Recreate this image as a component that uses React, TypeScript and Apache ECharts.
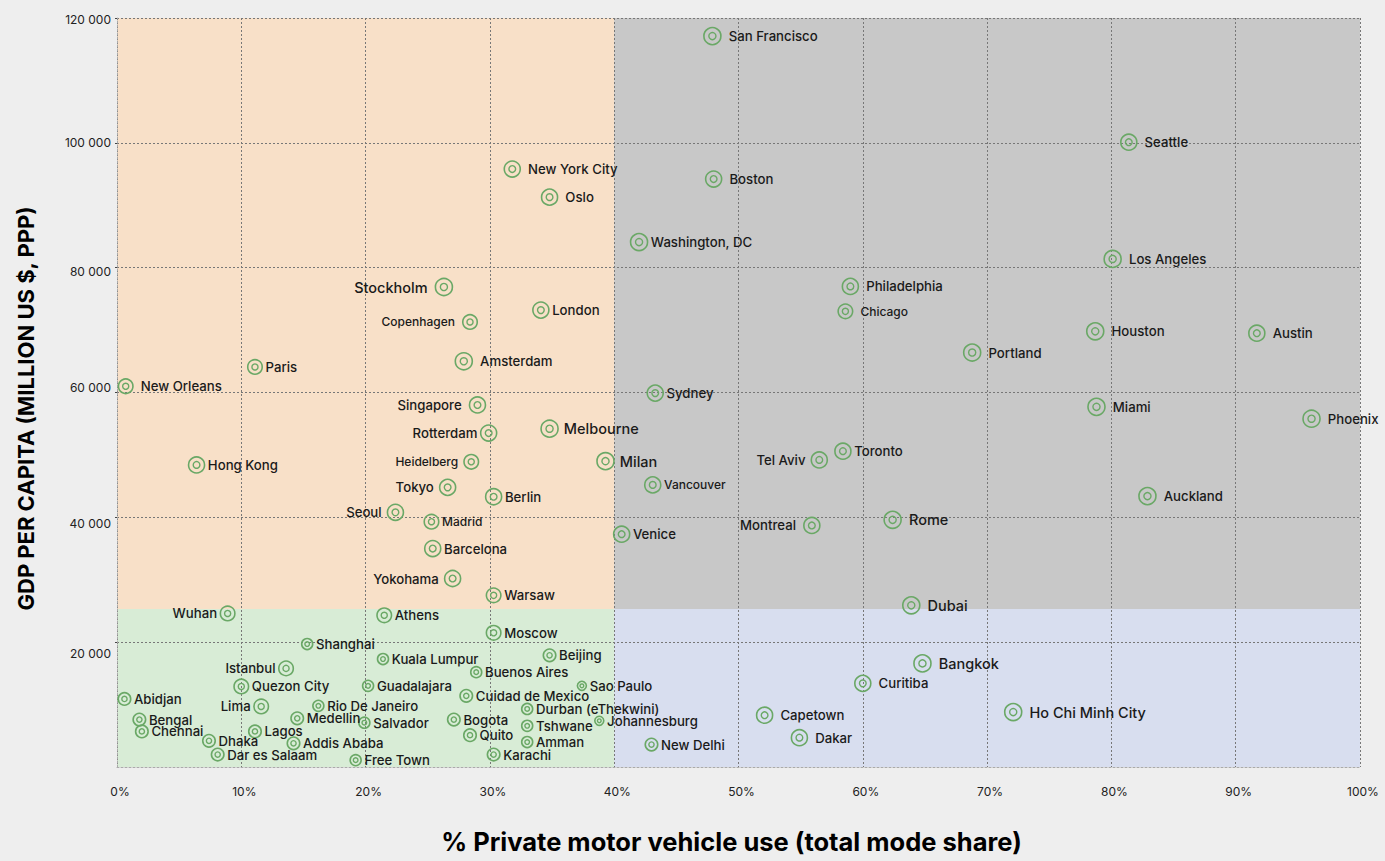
import React, { useEffect, useRef } from "react";
import * as echarts from "echarts";

// ---------- DATA ----------
const cities = [
  "San Francisco", "New York City", "Oslo", "Boston", "Washington, DC", "Seattle", "Los Angeles",
  "Stockholm", "Copenhagen", "London", "Philadelphia", "Chicago", "Houston", "Austin", "Portland",
  "Amsterdam", "Paris", "New Orleans", "Sydney", "Singapore", "Miami", "Phoenix", "Rotterdam",
  "Melbourne", "Toronto", "Tel Aviv", "Heidelberg", "Milan", "Hong Kong", "Tokyo", "Vancouver",
  "Berlin", "Auckland", "Seoul", "Madrid", "Rome", "Montreal", "Venice", "Barcelona", "Yokohama",
  "Warsaw", "Dubai", "Wuhan", "Athens", "Moscow", "Shanghai", "Kuala Lumpur", "Beijing", "Bangkok",
  "Istanbul", "Buenos Aires", "Quezon City", "Guadalajara", "Sao Paulo", "Curitiba", "Abidjan",
  "Cuidad de Mexico", "Lima", "Rio De Janeiro", "Durban (eThekwini)", "Capetown", "Ho Chi Minh City",
  "Bengal", "Medellin", "Salvador", "Bogota", "Johannesburg", "Tshwane", "Chennai", "Lagos", "Quito",
  "Dakar", "Dhaka", "Addis Ababa", "Amman", "New Delhi", "Dar es Salaam", "Karachi", "Free Town",
];

// % private motor vehicle use (total mode share)
const privateVehicleShare = [
  47.9, 31.8, 34.8, 48.0, 42.0, 81.4, 80.1,
  26.3, 28.4, 34.1, 59.0, 58.6, 78.7, 91.7, 68.8,
  27.9, 11.1, 0.7, 43.3, 29.0, 78.8, 96.1, 29.9,
  34.8, 58.4, 56.5, 28.5, 39.3, 6.4, 26.6, 43.1,
  30.3, 82.9, 22.4, 25.3, 62.4, 55.9, 40.6, 25.4, 27.0,
  30.3, 63.9, 8.9, 21.5, 30.3, 15.3, 21.4, 34.8, 64.8,
  13.6, 28.9, 10.0, 20.2, 37.4, 60.0, 0.6,
  28.1, 11.6, 16.2, 33.0, 52.1, 72.1,
  1.8, 14.5, 19.9, 27.1, 38.8, 33.0, 2.0, 11.1, 28.4,
  54.9, 7.4, 14.2, 33.0, 43.0, 8.1, 30.3, 19.2,
];

// GDP per capita
const gdpPerCapita = [
  117100, 95800, 91300, 94200, 84100, 100100, 81400,
  76900, 71300, 73200, 77000, 73000, 69800, 69500, 66400,
  65000, 64100, 61000, 59900, 58000, 57700, 55800, 53500,
  54200, 50600, 49200, 48900, 49000, 48400, 44800, 45200,
  43300, 43400, 40800, 39300, 39600, 38700, 37300, 35000, 30200,
  27500, 25900, 24600, 24300, 21500, 19700, 17300, 17900, 16600,
  15800, 15200, 12900, 13000, 13000, 13400, 10900,
  11400, 9700, 9800, 9300, 8300, 8800,
  7600, 7800, 7100, 7600, 7400, 6600, 5700, 5700, 5100,
  4700, 4200, 3800, 4000, 3600, 2000, 2000, 1100,
];

// marker class (relative marker weight) per city
const markerClass = [
  "A", "B", "B", "B", "A", "B", "A",
  "A", "C", "B", "B", "C", "A", "B", "A",
  "A", "C", "C", "B", "B", "A", "A", "B",
  "A", "B", "B", "C", "A", "B", "B", "B",
  "B", "A", "B", "C", "A", "B", "B", "B", "B",
  "C", "A", "C", "C", "C", "E", "E", "D", "A",
  "C", "E", "C", "E", "F", "B", "D",
  "D", "C", "E", "E", "B", "A",
  "D", "D", "E", "D", "F", "E", "D", "D", "D",
  "B", "D", "D", "E", "D", "D", "D", "E",
];

const xTickValues = [0, 10, 20, 30, 40, 50, 60, 70, 80, 90, 100];
const yTickValues = [0, 20000, 40000, 60000, 80000, 100000, 120000];
const quadrantSplitShare = 40;
const quadrantSplitGdp = 25300;

// ---------- STYLE ----------
const FONT = "Inter, 'Noto Sans', sans-serif";
const GREEN = "#6aa866";
const SIZE: Record<string, number> = { A: 17, B: 16, C: 14.5, D: 12.5, E: 11, F: 9 };
const LEFT_LABELS = new Set([
  "Stockholm", "Copenhagen", "Singapore", "Rotterdam", "Heidelberg", "Tokyo", "Seoul",
  "Yokohama", "Wuhan", "Istanbul", "Lima", "Tel Aviv", "Montreal",
]);
const FAR_LABELS = new Set([
  "San Francisco", "Boston", "Seattle", "Los Angeles", "Houston", "Austin", "Miami", "Phoenix",
  "Auckland", "Portland", "Chicago", "Philadelphia", "Rome", "Dubai", "Bangkok", "Curitiba",
  "Capetown", "Dakar", "Ho Chi Minh City", "New Orleans", "Amsterdam", "New York City", "Oslo",
  "Stockholm", "Montreal", "Copenhagen", "Singapore",
]);
const MID_LABELS = new Set(["Melbourne", "Milan", "Heidelberg", "Tokyo", "Yokohama", "Tel Aviv", "Seoul"]);
const BIG_LABELS = new Set(["Stockholm", "Melbourne", "Milan", "Rome", "Dubai", "Ho Chi Minh City", "Bangkok"]);
const SMALL_LABELS = new Set(["Copenhagen", "Heidelberg", "Madrid", "Chicago", "Vancouver"]);
const Y_LABEL_SHIFT: Record<number, number> = { 120000: 1, 100000: 0, 80000: 4, 60000: -5, 40000: 6, 20000: 11 };

const fmtThousands = (v: number) => String(v).replace(/\B(?=(\d{3})+(?!\d))/g, " ");

export default function App() {
  const ref = useRef<HTMLDivElement>(null);

  useEffect(() => {
    if (!ref.current) return;
    const chart = echarts.init(ref.current, undefined, { renderer: "svg" });

    const points = cities.map((name, i) => {
      const size = SIZE[markerClass[i]];
      const left = LEFT_LABELS.has(name);
      const dist = FAR_LABELS.has(name) ? 7 : MID_LABELS.has(name) ? 5 : 2.5;
      const fs = BIG_LABELS.has(name) ? 14.5 : SMALL_LABELS.has(name) ? 12 : 13.2;
      return {
        name,
        value: [privateVehicleShare[i], gdpPerCapita[i]],
        symbolSize: size,
        label: { position: left ? "left" : "right", distance: dist, fontSize: fs },
      };
    });
    const inner = cities.map((name, i) => ({
      name,
      value: [privateVehicleShare[i], gdpPerCapita[i]],
      symbolSize: SIZE[markerClass[i]] * 0.42,
    }));

    const yRich: Record<string, any> = {};
    yTickValues.forEach((v) => {
      const s = Y_LABEL_SHIFT[v] || 0;
      yRich["t" + v] = {
        fontSize: 12,
        fontFamily: FONT,
        color: "#222",
        padding: s >= 0 ? [s * 2, 0, 0, 0] : [0, 0, -s * 2, 0],
      };
    });

    const xMin = xTickValues[0];
    const xMax = xTickValues[xTickValues.length - 1];
    const yMin = yTickValues[0];
    const yMax = yTickValues[yTickValues.length - 1];

    chart.setOption({
      animation: false,
      backgroundColor: "#eeeeee",
      textStyle: { fontFamily: FONT },
      grid: { left: 117, top: 18, width: 1243, height: 749, containLabel: false },
      xAxis: {
        type: "value",
        min: xMin,
        max: xMax,
        interval: 10,
        z: 3,
        axisLine: { show: true, lineStyle: { color: "#aaaaaa", type: [2, 2], width: 1 } },
        axisTick: { show: false },
        axisLabel: {
          formatter: "{value}%",
          color: "#222",
          fontSize: 12,
          fontFamily: FONT,
          margin: 18,
          padding: [0, 0, 0, 6],
        },
        splitLine: { show: true, lineStyle: { color: "#777777", type: [2, 2], width: 1 } },
        name: "% Private motor vehicle use (total mode share)",
        nameLocation: "middle",
        nameGap: 61,
        nameTextStyle: {
          fontSize: 25.5,
          fontWeight: "bold",
          color: "#000",
          fontFamily: FONT,
          padding: [0, 14, 0, 0],
        },
      },
      yAxis: {
        type: "value",
        min: yMin,
        max: yMax,
        interval: 20000,
        z: 3,
        axisLine: { show: true, lineStyle: { color: "#aaaaaa", type: [2, 2], width: 1 } },
        axisTick: { show: true, length: 2, lineStyle: { color: "#444" } },
        axisLabel: {
          showMinLabel: false,
          margin: 6,
          formatter: (v: number) => `{t${v}|${fmtThousands(v)}}`,
          rich: yRich,
        },
        splitLine: { show: true, lineStyle: { color: "#777777", type: [2, 2], width: 1 } },
        name: "GDP PER CAPITA (MILLION US $, PPP)",
        nameLocation: "middle",
        nameRotate: 90,
        nameGap: 80,
        nameTextStyle: {
          fontSize: 22,
          fontWeight: "bold",
          color: "#000",
          fontFamily: FONT,
          padding: [0, 32, 0, 0],
        },
      },
      series: [
        {
          type: "scatter",
          z: 1,
          silent: true,
          data: [],
          markArea: {
            silent: true,
            label: { show: false },
            data: [
              [
                { xAxis: xMin, yAxis: quadrantSplitGdp, itemStyle: { color: "#f8e0c8" } },
                { xAxis: quadrantSplitShare, yAxis: yMax },
              ],
              [
                { xAxis: quadrantSplitShare, yAxis: quadrantSplitGdp, itemStyle: { color: "#c8c8c8" } },
                { xAxis: xMax, yAxis: yMax },
              ],
              [
                { xAxis: xMin, yAxis: yMin, itemStyle: { color: "#d8ecd6" } },
                { xAxis: quadrantSplitShare, yAxis: quadrantSplitGdp },
              ],
              [
                { xAxis: quadrantSplitShare, yAxis: yMin, itemStyle: { color: "#d8deef" } },
                { xAxis: xMax, yAxis: quadrantSplitGdp },
              ],
            ],
          },
        },
        {
          type: "scatter",
          z: 5,
          symbol: "circle",
          data: points,
          itemStyle: { color: "rgba(0,0,0,0)", borderColor: GREEN, borderWidth: 1.6, opacity: 1 },
          label: {
            show: true,
            formatter: "{b}",
            color: "#1a1a1a",
            fontFamily: FONT,
            fontWeight: 500,
          },
          emphasis: { disabled: true },
        },
        {
          type: "scatter",
          z: 6,
          symbol: "circle",
          data: inner,
          itemStyle: { color: "rgba(0,0,0,0)", borderColor: GREEN, borderWidth: 1.4, opacity: 1 },
          label: { show: false },
          emphasis: { disabled: true },
          silent: true,
        },
      ],
    });

    return () => chart.dispose();
  }, []);

  return (
    <div
      style={{
        position: "fixed",
        left: 0,
        top: 0,
        width: 1385,
        height: 861,
        overflow: "hidden",
        background: "#eeeeee",
      }}
    >
      <div ref={ref} style={{ width: 1385, height: 861, overflow: "hidden" }} />
    </div>
  );
}
